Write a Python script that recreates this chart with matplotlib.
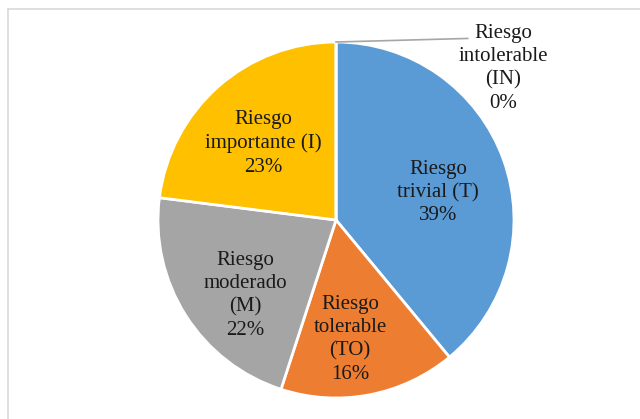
import matplotlib.pyplot as plt
from matplotlib.lines import Line2D

plt.rcParams['font.family'] = ['Liberation Serif', 'DejaVu Serif']

labels = ['Riesgo\ntrivial (T)', 'Riesgo\ntolerable\n(TO)', 'Riesgo\nmoderado\n(M)',
          'Riesgo\nimportante (I)', 'Riesgo\nintolerable\n(IN)']
values = [39, 16, 22, 23, 0]
colors = ['#5B9BD5', '#ED7D31', '#A5A5A5', '#FFC000', '#4472C4']

W, H = 640, 419
fig = plt.figure(figsize=(W / 100, H / 100), dpi=100)

# chart frame (only top and left edges fall inside the canvas)
fig.add_artist(Line2D([8 / W, 8 / W], [0, 1 - 9 / H], color='#D9D9D9', lw=1.2))
fig.add_artist(Line2D([8 / W, 1], [1 - 9 / H, 1 - 9 / H], color='#D9D9D9', lw=1.2))

cx, cy, r = 336, 220, 178
ax = fig.add_axes([(cx - r) / W, 1 - (cy + r) / H, 2 * r / W, 2 * r / H])
wedges, _ = ax.pie(values, colors=colors, startangle=90, counterclock=False,
                   radius=1, wedgeprops=dict(edgecolor='white', linewidth=2))
ax.set_xlim(-1, 1)
ax.set_ylim(-1, 1)
ax.set_aspect('equal')
ax.axis('off')

# label positions in pie coordinates
pos = [(0.573, 0.155), (0.08, -0.67), (-0.51, -0.425), (-0.41, 0.43)]
for (x, y), lab, v in zip(pos, labels[:4], values[:4]):
    ax.text(x, y, f'{lab}\n{v}%', ha='center', va='center', fontsize=15,
            linespacing=1.3, color='#1a1a1a')

# the zero slice gets a leader line to an outside label
ax.plot([0, 0.74], [1.0, 1.02], color='#A6A6A6', lw=1.2, clip_on=False)
ax.text(0.94, 0.85, f'{labels[4]}\n{values[4]}%', ha='center', va='center',
        fontsize=15, linespacing=1.3, color='#1a1a1a', clip_on=False)

fig.savefig('out.png', dpi=100)
